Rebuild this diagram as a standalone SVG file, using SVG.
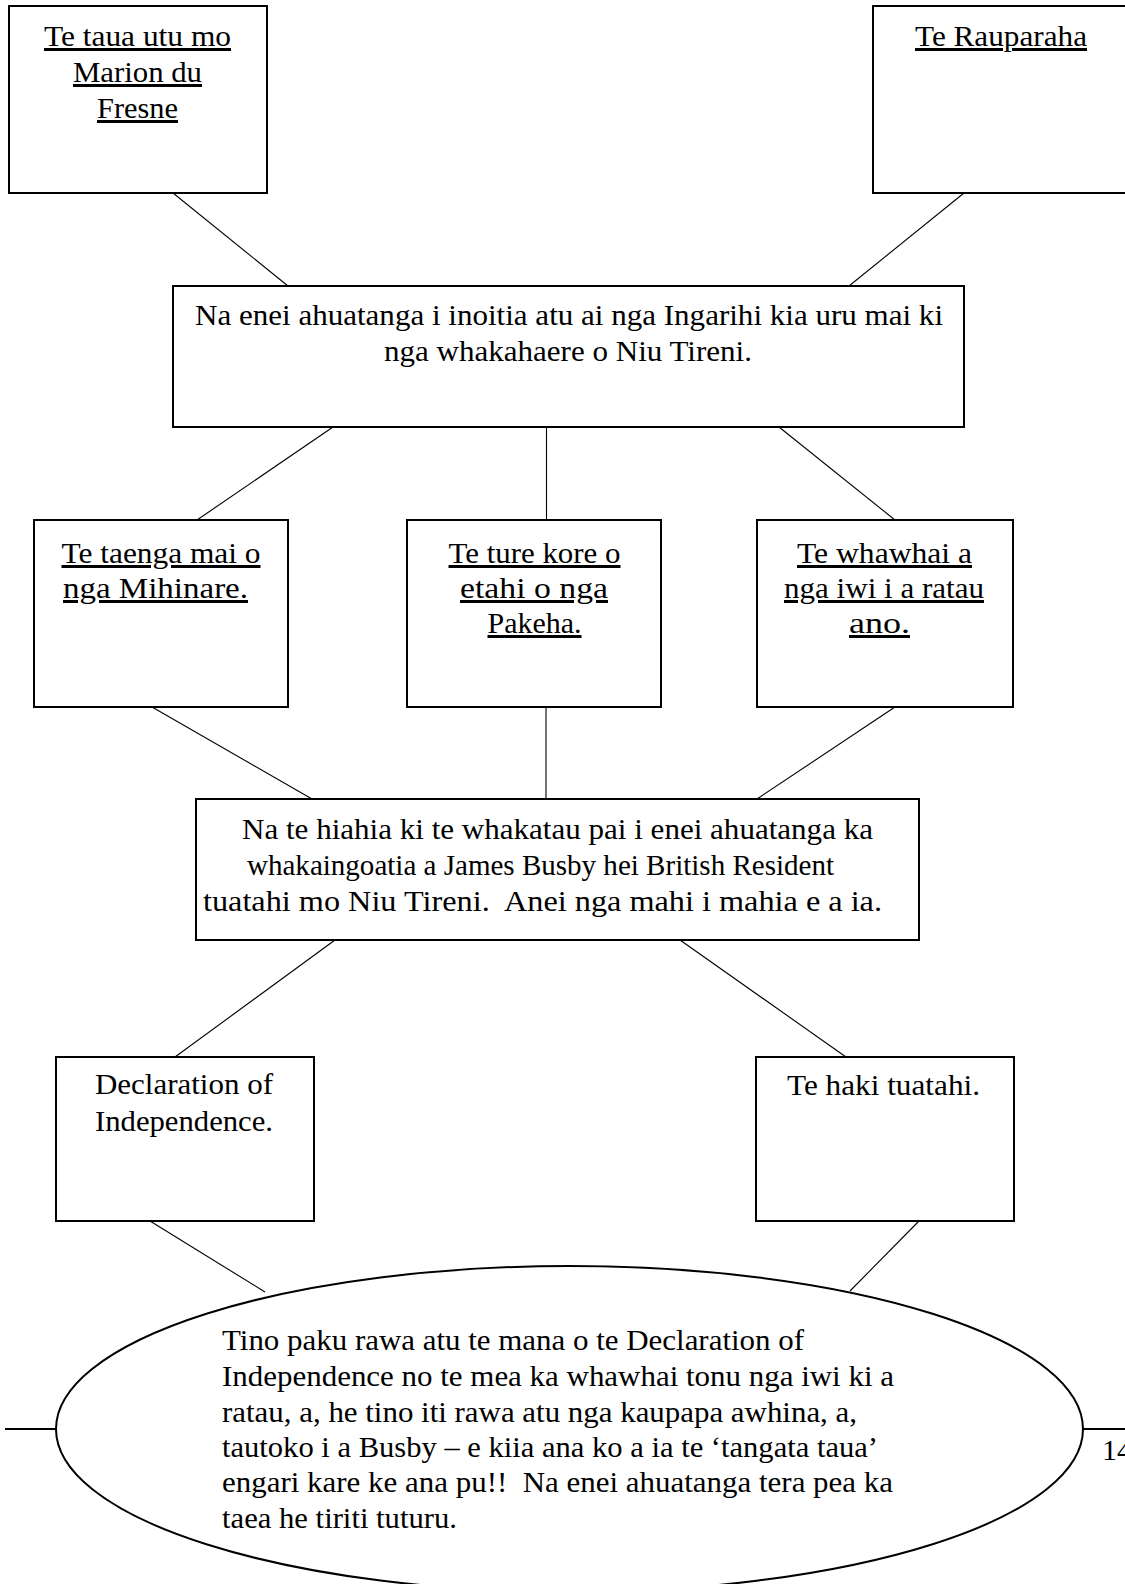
<svg xmlns="http://www.w3.org/2000/svg" width="1125" height="1584" viewBox="0 0 1125 1584">
<style>
.box{fill:#fff;stroke:#000;stroke-width:2}
.ell{fill:#fff;stroke:#000;stroke-width:2}
#connectors line{stroke:#000;stroke-width:1.1}
.rule{stroke:#000;stroke-width:2}
text{font-family:"Liberation Serif","Times New Roman",serif;font-size:30px;fill:#000}
.u{text-decoration:underline}
</style>
<rect width="1125" height="1584" fill="#fff"/>
<g id="connectors">
<line x1="173" y1="193" x2="288" y2="286"/>
<line x1="964" y1="193" x2="849" y2="286"/>
<line x1="333" y1="427" x2="197" y2="520"/>
<line x1="546.5" y1="427" x2="546.5" y2="520"/>
<line x1="779" y1="427" x2="895" y2="520"/>
<line x1="152" y1="707" x2="312" y2="799"/>
<line x1="546" y1="707" x2="546" y2="799"/>
<line x1="895" y1="707" x2="757" y2="799"/>
<line x1="335" y1="940" x2="175" y2="1057"/>
<line x1="680" y1="940" x2="846" y2="1057"/>
<line x1="150" y1="1221" x2="265" y2="1292"/>
<line x1="919" y1="1221" x2="850" y2="1291"/>
</g>
<g id="page-rule">
<line class="rule" x1="5" y1="1429" x2="56" y2="1429"/>
<line class="rule" x1="1083" y1="1429" x2="1125" y2="1429"/>
<text x="1102" y="1460">14</text>
</g>
<g id="n-marion">
<rect class="box" x="9" y="6" width="258" height="187"/>
<text class="u" x="44" y="46" textLength="187" lengthAdjust="spacingAndGlyphs">Te taua utu mo</text>
<text class="u" x="73" y="82" textLength="129" lengthAdjust="spacingAndGlyphs">Marion du</text>
<text class="u" x="97" y="118" textLength="81" lengthAdjust="spacingAndGlyphs">Fresne</text>
</g>
<g id="n-rauparaha">
<rect class="box" x="873" y="6" width="258" height="187"/>
<text class="u" x="915" y="46" textLength="172" lengthAdjust="spacingAndGlyphs">Te Rauparaha</text>
</g>
<g id="n-ingarihi">
<rect class="box" x="173" y="286" width="791" height="141"/>
<text x="195" y="325" textLength="748" lengthAdjust="spacingAndGlyphs">Na enei ahuatanga i inoitia atu ai nga Ingarihi kia uru mai ki</text>
<text x="384" y="361" textLength="368" lengthAdjust="spacingAndGlyphs">nga whakahaere o Niu Tireni.</text>
</g>
<g id="n-mihinare">
<rect class="box" x="34" y="520" width="254" height="187"/>
<text class="u" x="61.5" y="563" textLength="199" lengthAdjust="spacingAndGlyphs">Te taenga mai o</text>
<text class="u" x="63" y="598" textLength="185" lengthAdjust="spacingAndGlyphs">nga Mihinare.</text>
</g>
<g id="n-pakeha">
<rect class="box" x="407" y="520" width="254" height="187"/>
<text class="u" x="448.5" y="563" textLength="172" lengthAdjust="spacingAndGlyphs">Te ture kore o</text>
<text class="u" x="460" y="598" textLength="148" lengthAdjust="spacingAndGlyphs">etahi o nga</text>
<text class="u" x="487.5" y="633" textLength="94" lengthAdjust="spacingAndGlyphs">Pakeha.</text>
</g>
<g id="n-whawhai">
<rect class="box" x="757" y="520" width="256" height="187"/>
<text class="u" x="797" y="563" textLength="175" lengthAdjust="spacingAndGlyphs">Te whawhai a</text>
<text class="u" x="784" y="598" textLength="200" lengthAdjust="spacingAndGlyphs">nga iwi i a ratau</text>
<text class="u" x="849" y="633" textLength="61" lengthAdjust="spacingAndGlyphs">ano.</text>
</g>
<g id="n-busby">
<rect class="box" x="196" y="799" width="723" height="141"/>
<text x="242" y="839" textLength="631" lengthAdjust="spacingAndGlyphs">Na te hiahia ki te whakatau pai i enei ahuatanga ka</text>
<text x="247" y="875" textLength="587" lengthAdjust="spacingAndGlyphs">whakaingoatia a James Busby hei British Resident</text>
<text x="203" y="911" textLength="679" lengthAdjust="spacingAndGlyphs" xml:space="preserve">tuatahi mo Niu Tireni.  Anei nga mahi i mahia e a ia.</text>
</g>
<g id="n-declaration">
<rect class="box" x="56" y="1057" width="258" height="164"/>
<text x="95" y="1094" textLength="178" lengthAdjust="spacingAndGlyphs">Declaration of</text>
<text x="95" y="1131" textLength="178" lengthAdjust="spacingAndGlyphs">Independence.</text>
</g>
<g id="n-haki">
<rect class="box" x="756" y="1057" width="258" height="164"/>
<text x="787" y="1095" textLength="193" lengthAdjust="spacingAndGlyphs">Te haki tuatahi.</text>
</g>
<g id="n-summary">
<ellipse class="ell" cx="569.5" cy="1429" rx="513.5" ry="163"/>
<text x="222" y="1350" textLength="582" lengthAdjust="spacingAndGlyphs">Tino paku rawa atu te mana o te Declaration of</text>
<text x="222" y="1386" textLength="672" lengthAdjust="spacingAndGlyphs">Independence no te mea ka whawhai tonu nga iwi ki a</text>
<text x="222" y="1422" textLength="635" lengthAdjust="spacingAndGlyphs">ratau, a, he tino iti rawa atu nga kaupapa awhina, a,</text>
<text x="222" y="1457" textLength="656" lengthAdjust="spacingAndGlyphs">tautoko i a Busby – e kiia ana ko a ia te ‘tangata taua’</text>
<text x="222" y="1492" textLength="671" lengthAdjust="spacingAndGlyphs" xml:space="preserve">engari kare ke ana pu!!  Na enei ahuatanga tera pea ka</text>
<text x="222" y="1528" textLength="235" lengthAdjust="spacingAndGlyphs">taea he tiriti tuturu.</text>
</g>
</svg>
